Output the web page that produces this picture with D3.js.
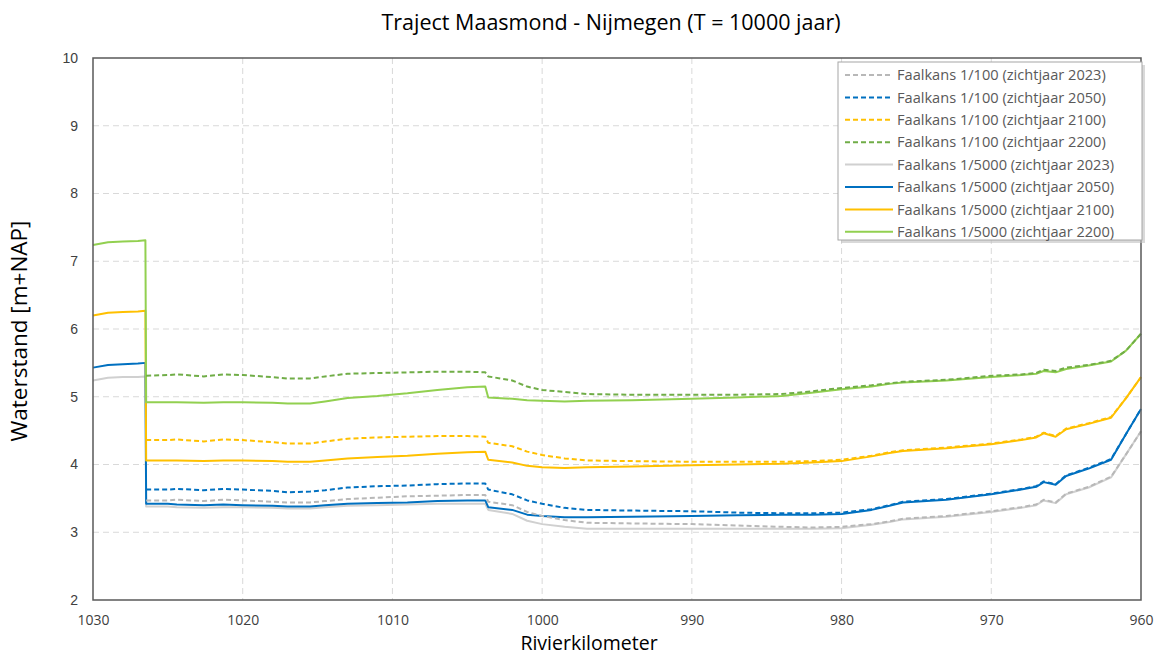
<!DOCTYPE html>
<html><head><meta charset="utf-8">
<script src="https://cdn.jsdelivr.net/npm/d3@7"></script>
<style>
html,body{margin:0;padding:0;background:#fff;}
svg{display:block;font-family:"Open Sans","Noto Sans",sans-serif;}
</style></head>
<body>
<svg id="chart" width="1155" height="658"></svg>
<script>
const km = [1030,1029,1028,1027,1026.5,1026.45,1025,1024.4,1022.6,1021.3,1020,1018,1017,1015.5,1014.5,1013,1011,1009,1007,1005,1003.8,1003.6,1002,1001,1000,998.5,997,994,990,987,984,982,980,978,976.8,975.9,973,970,968,967,966.5,965.7,965,963.5,962,961,960];
const N = null;
const f100_2023 = [N,N,N,N,N,3.47,3.47,3.48,3.46,3.48,3.47,3.45,3.44,3.44,3.46,3.49,3.51,3.53,3.54,3.55,3.55,3.45,3.40,3.30,3.24,3.18,3.14,3.13,3.12,3.10,3.08,3.07,3.08,3.12,3.16,3.20,3.24,3.31,3.37,3.41,3.48,3.44,3.57,3.67,3.82,4.15,4.49];
const f100_2050 = [N,N,N,N,N,3.63,3.63,3.64,3.62,3.64,3.63,3.61,3.59,3.60,3.62,3.66,3.68,3.69,3.71,3.72,3.72,3.63,3.56,3.47,3.42,3.36,3.33,3.32,3.31,3.29,3.28,3.28,3.29,3.34,3.40,3.45,3.49,3.57,3.64,3.68,3.75,3.71,3.84,3.95,4.08,4.45,4.82];
const f100_2100 = [N,N,N,N,N,4.36,4.36,4.37,4.34,4.37,4.36,4.33,4.31,4.31,4.34,4.38,4.40,4.41,4.42,4.42,4.41,4.32,4.27,4.19,4.14,4.09,4.06,4.05,4.04,4.04,4.04,4.05,4.07,4.13,4.18,4.21,4.25,4.31,4.37,4.41,4.47,4.42,4.53,4.61,4.70,4.98,5.29];
const f100_2200 = [N,N,N,N,N,5.31,5.32,5.33,5.30,5.33,5.32,5.29,5.27,5.27,5.30,5.34,5.35,5.36,5.37,5.37,5.36,5.30,5.24,5.15,5.10,5.07,5.04,5.03,5.03,5.03,5.04,5.08,5.13,5.17,5.20,5.22,5.25,5.31,5.33,5.35,5.40,5.38,5.43,5.47,5.53,5.68,5.93];
const f5000_2023 = [5.24,5.28,5.29,5.29,5.30,3.38,3.38,3.37,3.36,3.37,3.37,3.36,3.35,3.35,3.37,3.39,3.40,3.41,3.42,3.42,3.42,3.33,3.27,3.17,3.12,3.08,3.05,3.05,3.05,3.05,3.05,3.05,3.06,3.11,3.15,3.19,3.23,3.30,3.36,3.40,3.47,3.43,3.56,3.66,3.81,4.15,4.49];
const f5000_2050 = [5.43,5.47,5.48,5.49,5.50,3.42,3.42,3.41,3.40,3.41,3.40,3.39,3.38,3.38,3.40,3.42,3.43,3.44,3.46,3.47,3.47,3.37,3.33,3.26,3.24,3.22,3.22,3.23,3.24,3.25,3.26,3.26,3.27,3.33,3.39,3.44,3.48,3.56,3.63,3.67,3.74,3.70,3.83,3.94,4.07,4.45,4.82];
const f5000_2100 = [6.20,6.24,6.25,6.26,6.27,4.06,4.06,4.06,4.05,4.06,4.06,4.05,4.04,4.04,4.06,4.09,4.11,4.13,4.16,4.18,4.19,4.07,4.03,3.98,3.96,3.95,3.96,3.97,3.99,4.00,4.01,4.03,4.05,4.12,4.17,4.20,4.24,4.30,4.36,4.40,4.46,4.41,4.52,4.60,4.69,4.98,5.29];
const f5000_2200 = [7.24,7.28,7.29,7.30,7.31,4.92,4.92,4.92,4.91,4.92,4.92,4.91,4.90,4.90,4.93,4.98,5.01,5.05,5.10,5.14,5.15,4.99,4.97,4.95,4.94,4.93,4.94,4.95,4.97,4.99,5.01,5.06,5.11,5.15,5.19,5.21,5.24,5.29,5.32,5.34,5.38,5.36,5.41,5.46,5.52,5.68,5.93];

const xTicks = [1030,1020,1010,1000,990,980,970,960];
const yTicks = [2,3,4,5,6,7,8,9,10];

const series = [
  {name:"Faalkans 1/100 (zichtjaar 2023)", values:f100_2023, color:"#b8b8b8", dash:"5,3"},
  {name:"Faalkans 1/100 (zichtjaar 2050)", values:f100_2050, color:"#0070c0", dash:"5,3"},
  {name:"Faalkans 1/100 (zichtjaar 2100)", values:f100_2100, color:"#ffc000", dash:"5,3"},
  {name:"Faalkans 1/100 (zichtjaar 2200)", values:f100_2200, color:"#70ad47", dash:"5,3"},
  {name:"Faalkans 1/5000 (zichtjaar 2023)", values:f5000_2023, color:"#d0d0d0", dash:null},
  {name:"Faalkans 1/5000 (zichtjaar 2050)", values:f5000_2050, color:"#0070c0", dash:null},
  {name:"Faalkans 1/5000 (zichtjaar 2100)", values:f5000_2100, color:"#ffc000", dash:null},
  {name:"Faalkans 1/5000 (zichtjaar 2200)", values:f5000_2200, color:"#92d050", dash:null}
];

const svg = d3.select("#chart");
const L = 93, R = 1141, T = 58, B = 600;
const x = d3.scaleLinear().domain([1030,960]).range([L,R]);
const y = d3.scaleLinear().domain([2,10]).range([B,T]);

// gridlines
const grid = svg.append("g");
grid.selectAll(".hg").data(yTicks.slice(1,-1)).enter().append("line")
  .attr("x1",L).attr("x2",R).attr("y1",d=>y(d)).attr("y2",d=>y(d))
  .attr("stroke","#d9d9d9").attr("stroke-width",1).attr("stroke-dasharray","6,4");
grid.selectAll(".vg").data(xTicks.slice(1,-1)).enter().append("line")
  .attr("y1",T).attr("y2",B).attr("x1",d=>x(d)).attr("x2",d=>x(d))
  .attr("stroke","#d9d9d9").attr("stroke-width",1).attr("stroke-dasharray","6,4");

// axes
const xAxis = svg.append("g").attr("transform",`translate(0,${B})`)
  .call(d3.axisBottom(x).tickValues(xTicks).tickSize(0).tickPadding(15).tickFormat(d3.format("d")));
xAxis.select(".domain").remove();
xAxis.selectAll("text").attr("font-size",14).attr("fill","#404040").attr("font-family","'Liberation Sans Narrow','Open Sans',sans-serif");
const yAxis = svg.append("g").attr("transform",`translate(${L},0)`)
  .call(d3.axisLeft(y).tickValues(yTicks).tickSize(0).tickPadding(15).tickFormat(d3.format("d")));
yAxis.select(".domain").remove();
yAxis.selectAll("text").attr("font-size",14).attr("fill","#404040");

// lines
const line = d3.line().defined(d=>d[1]!==null).x(d=>x(d[0])).y(d=>y(d[1]));
const order = [4,5,6,7,0,1,2,3];
order.forEach(i=>{
  const s = series[i];
  svg.append("path").datum(km.map((k,j)=>[k,s.values[j]]))
    .attr("d",line).attr("fill","none").attr("stroke",s.color)
    .attr("stroke-width",2).attr("stroke-dasharray",s.dash)
    .attr("stroke-linejoin","round");
});

// frame
svg.append("rect").attr("x",L).attr("y",T).attr("width",R-L).attr("height",B-T)
  .attr("fill","none").attr("stroke","#595959").attr("stroke-width",1.5);

// legend
const lg = svg.append("g");
const lx = 838, ly = 62, lw = 304, lh = 178;
lg.append("rect").attr("x",lx+3).attr("y",ly+3).attr("width",lw).attr("height",lh).attr("fill","#bfbfbf").attr("opacity",0.6);
lg.append("rect").attr("x",lx).attr("y",ly).attr("width",lw).attr("height",lh).attr("fill","#fff").attr("stroke","#a6a6a6").attr("stroke-width",1);
series.forEach((s,i)=>{
  const yy = ly + 13 + i*22.4;
  lg.append("line").attr("x1",lx+7).attr("x2",lx+55).attr("y1",yy).attr("y2",yy)
    .attr("stroke",s.color).attr("stroke-width",2).attr("stroke-dasharray",s.dash);
  lg.append("text").attr("x",lx+59).attr("y",yy).attr("dy","0.35em")
    .attr("font-size",14.6).attr("fill","#595959").text(s.name);
});

// titles
svg.append("text").attr("x",611).attr("y",30).attr("text-anchor","middle")
  .attr("font-size",21.5).attr("fill","#000").text("Traject Maasmond - Nijmegen (T = 10000 jaar)");
svg.append("text").attr("x",589).attr("y",650).attr("text-anchor","middle")
  .attr("font-size",19.5).attr("fill","#000").text("Rivierkilometer");
svg.append("text").attr("transform","translate(27,331) rotate(-90)").attr("text-anchor","middle")
  .attr("font-size",22.5).attr("fill","#000").text("Waterstand [m+NAP]");
</script>
</body></html>
